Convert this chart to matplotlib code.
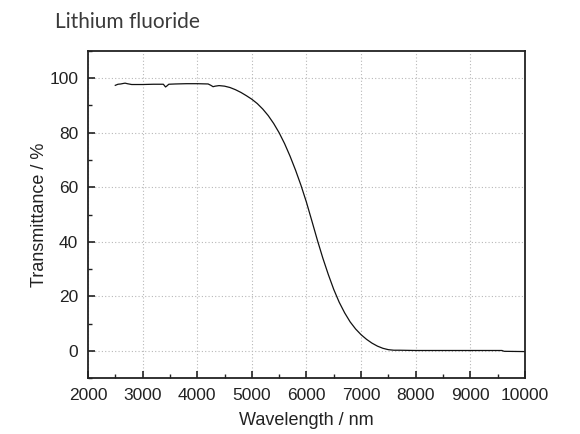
import matplotlib
matplotlib.use("Agg")
import matplotlib.pyplot as plt
from matplotlib.ticker import MultipleLocator

# ------------------------------
# Data
# ------------------------------
wavelength = [2500, 2550, 2600, 2650, 2680, 2720, 2800, 2900, 3000, 3200, 3380,
              3420, 3440, 3480, 3600, 3800, 4000, 4200, 4250, 4290, 4330, 4400,
              4500, 4600, 4700, 4800, 4900, 5000, 5100, 5200, 5300, 5400, 5500,
              5600, 5700, 5800, 5900, 6000, 6100, 6200, 6300, 6400, 6500, 6600,
              6700, 6800, 6900, 7000, 7100, 7200, 7300, 7400, 7500, 7600, 7700,
              8000, 8500, 9000, 9580, 9620, 10000]
transmittance = [97.4, 97.8, 97.9, 98.1, 98.2, 98.0, 97.7, 97.7, 97.7, 97.8, 97.8,
                 96.8, 97.1, 97.8, 97.9, 98.0, 98.0, 97.9, 97.4, 96.9, 97.1, 97.3,
                 97.1, 96.6, 95.8, 94.8, 93.6, 92.3, 90.7, 88.7, 86.3, 83.4, 80.0,
                 76.0, 71.4, 66.3, 60.7, 54.5, 47.6, 40.6, 34.0, 28.0, 22.5, 17.8,
                 13.9, 10.6, 8.0, 5.9, 4.2, 2.8, 1.7, 0.9, 0.4, 0.2, 0.2,
                 0.1, 0.1, 0.1, 0.1, -0.2, -0.3]

x_ticks = [2000, 3000, 4000, 5000, 6000, 7000, 8000, 9000, 10000]
y_ticks = [0, 20, 40, 60, 80, 100]

# ------------------------------
# Plot
# ------------------------------
plt.rcParams["font.family"] = ["Liberation Sans", "DejaVu Sans"]

fig = plt.figure(figsize=(5.8, 4.34), dpi=100)
ax = fig.add_axes([0.1517, 0.129, 0.7533, 0.7535])

ax.plot(wavelength, transmittance, color="#111111", linewidth=0.9)

ax.set_xlim(2000, 10000)
ax.set_ylim(-10, 110)
ax.set_xticks(x_ticks)
ax.set_yticks(y_ticks)
ax.xaxis.set_minor_locator(MultipleLocator(500))
ax.yaxis.set_minor_locator(MultipleLocator(10))

ax.tick_params(which="major", direction="in", length=5, width=1.2,
               labelsize=12.5, colors="#222222", pad=7)
ax.tick_params(which="minor", direction="in", length=3, width=1.0, colors="#222222")
for s in ax.spines.values():
    s.set_linewidth(1.3)
    s.set_color("#222222")

ax.grid(True, which="major", linestyle=(0, (1, 2)), color="#b8b8b8", linewidth=0.8)

ax.set_xlabel("Wavelength / nm", fontsize=13, color="#222222", labelpad=7)
ax.set_ylabel("Transmittance / %", fontsize=13, color="#222222", labelpad=1)

fig.text(0.095, 0.95, "Lithium fluoride", fontsize=15, color="#3a3a3a",
         family=["Lato", "DejaVu Sans"], ha="left", va="center")

fig.savefig("out.png", dpi=100)
